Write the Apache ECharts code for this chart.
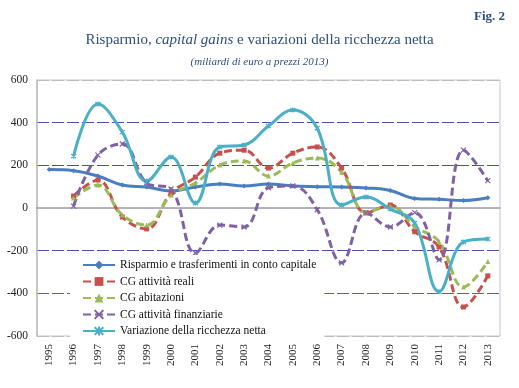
<!DOCTYPE html>
<html><head><meta charset="utf-8">
<script src="https://cdn.jsdelivr.net/npm/echarts@6/dist/echarts.min.js"></script>
<style>html,body{margin:0;padding:0;background:#fff}#c{width:519px;height:388px}</style>
</head><body><div id="c"></div>
<script>
const years = ['1995','1996','1997','1998','1999','2000','2001','2002','2003','2004','2005','2006','2007','2008','2009','2010','2011','2012','2013'];
const yTicks = [-600,-400,-200,0,200,400,600];
const risparmio = [180,175,150,108,98,80,98,112,103,112,103,100,98,94,82,45,41,35,48];
const cgReali = [null,56,131,-42,-98,70,145,257,271,187,257,286,187,-23,14,-111,-183,-464,-318];
const cgAbitazioni = [null,47,108,-33,-80,61,117,201,220,150,211,234,168,-19,9,-87,-158,-370,-251];
const cgFinanziarie = [null,9,248,300,117,89,-211,-80,-89,95,103,-8,-257,-23,-89,-22,-243,271,128];
const variazione = [null,243,487,356,126,239,23,286,295,384,459,374,14,51,-5,-70,-392,-159,-145];

const serif = 'Liberation Serif';
const xPath = 'path://M0,0L10,10M10,0L0,10';
const starPath = 'path://M0,0L10,10M10,0L0,10M5,-1L5,11';
function mk(name, data, color, symbol, dashed, size){
  return {name, type:'line', data, smooth:0.4, connectNulls:false,
    symbol, symbolSize:size,
    lineStyle:{color, width:3, type: dashed ? [8,4] : 'solid'},
    itemStyle:{color, borderColor:color, borderWidth: symbol.startsWith('path')?1.2:0},
    z:3};
}
const chart = echarts.init(document.getElementById('c'));
chart.setOption({
  animation:false,
  title:[
    {text:'Fig. 2', right:9, top:5, textStyle:{fontFamily:serif, fontSize:13, fontWeight:'bold', color:'#2F4E7E'}},
    {text:'{a|Risparmio, }{b|capital gains}{a| e variazioni della ricchezza netta}', left:'center', top:28,
      textStyle:{fontWeight:'normal', rich:{a:{fontFamily:serif, fontSize:15, fontWeight:'normal', color:'#2F4E7E'}, b:{fontFamily:serif, fontSize:15, fontWeight:'normal', fontStyle:'italic', color:'#2F4E7E'}}}},
    {text:'(miliardi di euro a prezzi 2013)', left:'center', top:52, textStyle:{fontFamily:serif, fontSize:11, fontStyle:'italic', fontWeight:'normal', color:'#2F4E7E'}}
  ],
  grid:{left:37, right:19, top:80, bottom:52, show:true, borderColor:'#C9C3DC', borderWidth:1},
  legend:{orient:'vertical', left:70, top:255, backgroundColor:'#fff', padding:[4,8,4,12], itemGap:4.5,
    itemWidth:32, itemHeight:11,
    textStyle:{fontFamily:serif, fontSize:11.5, color:'#111'},
    data:['Risparmio e trasferimenti in conto capitale','CG attività reali','CG abitazioni','CG attività finanziarie','Variazione della ricchezza netta']},
  xAxis:{type:'category', data:years, boundaryGap:true,
    axisLine:{lineStyle:{color:'#8A7BB0', width:1.5}}, axisTick:{show:false},
    axisLabel:{rotate:90, fontFamily:serif, fontSize:11, color:'#222', margin:8}},
  yAxis:{type:'value', min:-600, max:600, interval:200,
    axisLine:{show:true, lineStyle:{color:'#BBBBBB', width:1.5}}, axisTick:{show:false},
    axisLabel:{fontFamily:serif, fontSize:11.5, color:'#222', margin:9},
    splitLine:{show:true, lineStyle:{color:['#BBBBBB','#5A5FB5','#4A4FA8','#BBBBBB','#4A4FA8','#4A4FA8','#BBBBBB'], type:[12,3], width:1}}},
  series:[
    Object.assign(mk('Risparmio e trasferimenti in conto capitale', risparmio, '#4A7EC2', 'diamond', false, 5),
      {markLine:{silent:true, symbol:'none', label:{show:false}, lineStyle:{color:'#BBBBBB', type:'solid', width:1.5}, data:[{yAxis:0}], z:1}}),
    mk('CG attività reali', cgReali, '#C8504C', 'rect', true, 5),
    mk('CG abitazioni', cgAbitazioni, '#9BBB59', 'triangle', true, 5),
    mk('CG attività finanziarie', cgFinanziarie, '#7F62A6', xPath, true, 5),
    mk('Variazione della ricchezza netta', variazione, '#4BAFC8', starPath, false, 5)
  ]
});
</script></body></html>
